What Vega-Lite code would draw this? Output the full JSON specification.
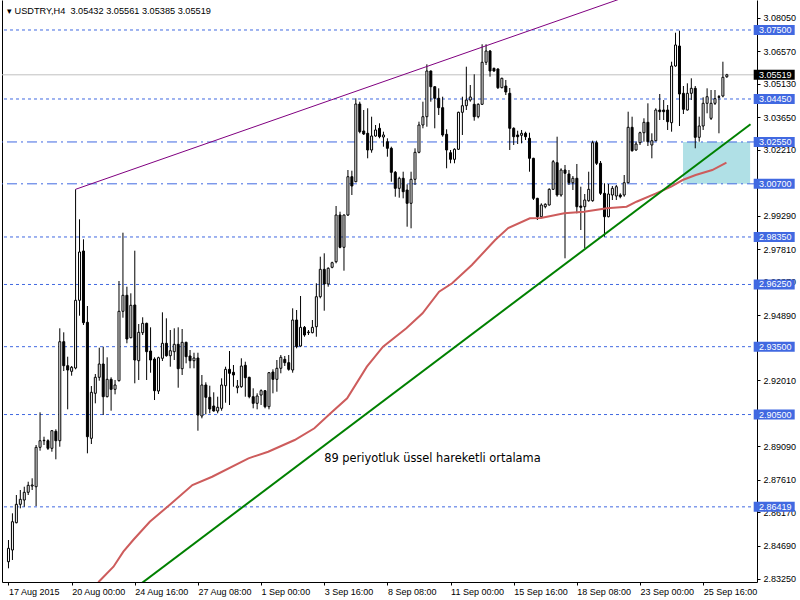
{
"$schema": "https://vega.github.io/schema/vega-lite/v6.json",
"width": 755, "height": 582,
"autosize": "none",
"padding": {"left": 2, "top": 0, "right": 43, "bottom": 18},
"background": "white",
"config": {"view": {"stroke": null}},
"title": {"text": "▾ USDTRY,H4\u00a0 3.05432 3.05561 3.05385 3.05519", "anchor": "start", "frame": "group", "offset": -23, "baseline": "alphabetic", "font": "Liberation Sans", "fontSize": 9.2, "fontWeight": "normal", "color": "black", "dx": 5},
"datasets": {
"bars": [
{"i":0,"o":2.83994,"h":2.84953,"l":2.83702,"c":2.84586},
{"i":1,"o":2.84511,"h":2.86133,"l":2.84069,"c":2.85762},
{"i":2,"o":2.85718,"h":2.86943,"l":2.85691,"c":2.86531},
{"i":3,"o":2.86531,"h":2.87164,"l":2.86354,"c":2.86752},
{"i":4,"o":2.86721,"h":2.87309,"l":2.86425,"c":2.87062},
{"i":5,"o":2.87062,"h":2.87530,"l":2.86943,"c":2.87371},
{"i":6,"o":2.87340,"h":2.87681,"l":2.87164,"c":2.87385},
{"i":7,"o":2.87309,"h":2.89153,"l":2.86456,"c":2.89051},
{"i":8,"o":2.89051,"h":2.90598,"l":2.88901,"c":2.89343},
{"i":9,"o":2.89343,"h":2.89520,"l":2.89153,"c":2.89361},
{"i":10,"o":2.89343,"h":2.89405,"l":2.88932,"c":2.89007},
{"i":11,"o":2.89007,"h":2.89816,"l":2.88857,"c":2.89785},
{"i":12,"o":2.89759,"h":2.89847,"l":2.88521,"c":2.89343},
{"i":13,"o":2.89343,"h":2.94312,"l":2.89078,"c":2.93720},
{"i":14,"o":2.93720,"h":2.94135,"l":2.92424,"c":2.92659},
{"i":15,"o":2.92659,"h":2.93057,"l":2.90731,"c":2.92469},
{"i":16,"o":2.92411,"h":2.92646,"l":2.92217,"c":2.92588},
{"i":17,"o":2.92557,"h":3.00457,"l":2.92499,"c":2.95550},
{"i":18,"o":2.95550,"h":2.99131,"l":2.94869,"c":2.97685},
{"i":19,"o":2.97730,"h":2.98247,"l":2.94458,"c":2.94560},
{"i":20,"o":2.94577,"h":2.95298,"l":2.88786,"c":2.89520},
{"i":21,"o":2.89449,"h":2.91761,"l":2.89197,"c":2.91483},
{"i":22,"o":2.91439,"h":2.92292,"l":2.90996,"c":2.92146},
{"i":23,"o":2.92146,"h":2.93455,"l":2.91996,"c":2.92734},
{"i":24,"o":2.92734,"h":2.93499,"l":2.90479,"c":2.91289},
{"i":25,"o":2.91289,"h":2.93030,"l":2.91260,"c":2.92057},
{"i":26,"o":2.92057,"h":2.92146,"l":2.90670,"c":2.91615},
{"i":27,"o":2.91615,"h":2.92027,"l":2.91394,"c":2.91806},
{"i":28,"o":2.91996,"h":2.96403,"l":2.91960,"c":2.95064},
{"i":29,"o":2.95064,"h":2.98539,"l":2.94781,"c":2.95771},
{"i":30,"o":2.95771,"h":2.96151,"l":2.93649,"c":2.93839},
{"i":31,"o":2.93896,"h":2.95859,"l":2.93870,"c":2.95329},
{"i":32,"o":2.95342,"h":2.97743,"l":2.91881,"c":2.92911},
{"i":33,"o":2.92880,"h":2.94502,"l":2.92027,"c":2.94135},
{"i":34,"o":2.94118,"h":2.94799,"l":2.94016,"c":2.94533},
{"i":35,"o":2.94533,"h":2.94560,"l":2.92027,"c":2.93278},
{"i":36,"o":2.93309,"h":2.94356,"l":2.92349,"c":2.92911},
{"i":37,"o":2.92955,"h":2.93030,"l":2.91142,"c":2.91554},
{"i":38,"o":2.91540,"h":2.93057,"l":2.91408,"c":2.93013},
{"i":39,"o":2.92986,"h":2.95019,"l":2.92867,"c":2.93649},
{"i":40,"o":2.93649,"h":2.94754,"l":2.93057,"c":2.93101},
{"i":41,"o":2.93101,"h":2.94237,"l":2.92615,"c":2.93322},
{"i":42,"o":2.93278,"h":2.94312,"l":2.92911,"c":2.93605},
{"i":43,"o":2.93605,"h":2.94356,"l":2.91686,"c":2.92526},
{"i":44,"o":2.92526,"h":2.94281,"l":2.92248,"c":2.93693},
{"i":45,"o":2.93693,"h":2.93720,"l":2.92765,"c":2.93057},
{"i":46,"o":2.93088,"h":2.93353,"l":2.92544,"c":2.92880},
{"i":47,"o":2.92880,"h":2.93233,"l":2.92544,"c":2.92999},
{"i":48,"o":2.92999,"h":2.93233,"l":2.89785,"c":2.90479},
{"i":49,"o":2.90435,"h":2.92248,"l":2.90333,"c":2.91806},
{"i":50,"o":2.91806,"h":2.91925,"l":2.90510,"c":2.91262},
{"i":51,"o":2.91262,"h":2.91775,"l":2.90554,"c":2.90745},
{"i":52,"o":2.90877,"h":2.91483,"l":2.90630,"c":2.90656},
{"i":53,"o":2.90656,"h":2.91288,"l":2.90554,"c":2.90820},
{"i":54,"o":2.90775,"h":2.92102,"l":2.90669,"c":2.91806},
{"i":55,"o":2.91775,"h":2.92615,"l":2.91023,"c":2.92499},
{"i":56,"o":2.92499,"h":2.93309,"l":2.90921,"c":2.92323},
{"i":57,"o":2.92367,"h":2.92690,"l":2.91730,"c":2.92248},
{"i":58,"o":2.91686,"h":2.92027,"l":2.91439,"c":2.91761},
{"i":59,"o":2.91730,"h":2.92986,"l":2.91686,"c":2.92645},
{"i":60,"o":2.92676,"h":2.92836,"l":2.91288,"c":2.92128},
{"i":61,"o":2.92146,"h":2.92170,"l":2.91217,"c":2.91288},
{"i":62,"o":2.91288,"h":2.91660,"l":2.90775,"c":2.90996},
{"i":63,"o":2.90996,"h":2.91439,"l":2.90731,"c":2.91319},
{"i":64,"o":2.91363,"h":2.91615,"l":2.90921,"c":2.91554},
{"i":65,"o":2.91554,"h":2.91585,"l":2.90775,"c":2.90846},
{"i":66,"o":2.90846,"h":2.92380,"l":2.90731,"c":2.92349},
{"i":67,"o":2.92380,"h":2.92499,"l":2.91439,"c":2.92057},
{"i":68,"o":2.92057,"h":2.92911,"l":2.91509,"c":2.92544},
{"i":69,"o":2.92544,"h":2.93132,"l":2.92323,"c":2.93030},
{"i":70,"o":2.92941,"h":2.93088,"l":2.92646,"c":2.92792},
{"i":71,"o":2.92792,"h":2.93132,"l":2.92438,"c":2.92499},
{"i":72,"o":2.92469,"h":2.95196,"l":2.92349,"c":2.94679},
{"i":73,"o":2.94679,"h":2.95121,"l":2.93428,"c":2.93499},
{"i":74,"o":2.93530,"h":2.95740,"l":2.93499,"c":2.94356},
{"i":75,"o":2.94356,"h":2.94414,"l":2.93941,"c":2.94016},
{"i":76,"o":2.94118,"h":2.94237,"l":2.94016,"c":2.94148},
{"i":77,"o":2.94118,"h":2.94679,"l":2.94091,"c":2.94356},
{"i":78,"o":2.94383,"h":2.96301,"l":2.93941,"c":2.95709},
{"i":79,"o":2.95709,"h":2.97478,"l":2.95638,"c":2.96920},
{"i":80,"o":2.96920,"h":2.97628,"l":2.95090,"c":2.96271},
{"i":81,"o":2.96271,"h":2.97009,"l":2.96151,"c":2.96965},
{"i":82,"o":2.97009,"h":2.97256,"l":2.96965,"c":2.97212},
{"i":83,"o":2.97256,"h":2.99719,"l":2.97186,"c":2.99321},
{"i":84,"o":2.99321,"h":2.99467,"l":2.97849,"c":2.97893},
{"i":85,"o":2.97893,"h":2.99345,"l":2.96859,"c":2.99321},
{"i":86,"o":2.99321,"h":3.01310,"l":2.99277,"c":3.01014},
{"i":87,"o":3.01014,"h":3.01280,"l":3.00205,"c":3.00603},
{"i":88,"o":3.00793,"h":3.04480,"l":3.00770,"c":3.04228},
{"i":89,"o":3.04228,"h":3.04330,"l":3.02933,"c":3.03004},
{"i":90,"o":3.03035,"h":3.03963,"l":3.02858,"c":3.02902},
{"i":91,"o":3.02933,"h":3.04038,"l":3.01828,"c":3.02195},
{"i":92,"o":3.02195,"h":3.03667,"l":3.02075,"c":3.02814},
{"i":93,"o":3.02814,"h":3.03300,"l":3.02782,"c":3.03079},
{"i":94,"o":3.03154,"h":3.03375,"l":3.02712,"c":3.02783},
{"i":95,"o":3.02769,"h":3.03004,"l":3.02341,"c":3.02858},
{"i":96,"o":3.02562,"h":3.02712,"l":3.01898,"c":3.02270},
{"i":97,"o":3.02270,"h":3.02341,"l":3.00793,"c":3.01209},
{"i":98,"o":3.01209,"h":3.01266,"l":3.00130,"c":3.00501},
{"i":99,"o":3.00501,"h":3.01014,"l":3.00086,"c":3.00944},
{"i":100,"o":3.00944,"h":3.01235,"l":3.00059,"c":3.00351},
{"i":101,"o":3.00426,"h":3.00678,"l":2.98804,"c":2.99838},
{"i":102,"o":2.99838,"h":3.01235,"l":2.98733,"c":3.00899},
{"i":103,"o":3.00899,"h":3.02270,"l":3.00647,"c":3.02093},
{"i":104,"o":3.02093,"h":3.03446,"l":3.02049,"c":3.03300},
{"i":105,"o":3.03300,"h":3.04330,"l":3.03154,"c":3.03667},
{"i":106,"o":3.03667,"h":3.05983,"l":3.03225,"c":3.05687},
{"i":107,"o":3.05687,"h":3.05710,"l":3.04330,"c":3.04993},
{"i":108,"o":3.04993,"h":3.05010,"l":3.03154,"c":3.04480},
{"i":109,"o":3.04480,"h":3.04922,"l":3.03742,"c":3.04065},
{"i":110,"o":3.04065,"h":3.04551,"l":3.02782,"c":3.02858},
{"i":111,"o":3.02889,"h":3.03110,"l":3.01386,"c":3.02195},
{"i":112,"o":3.02075,"h":3.02195,"l":3.01607,"c":3.01783},
{"i":113,"o":3.01783,"h":3.02270,"l":3.01607,"c":3.02226},
{"i":114,"o":3.02226,"h":3.03888,"l":3.02195,"c":3.03861},
{"i":115,"o":3.03861,"h":3.04551,"l":3.02858,"c":3.04153},
{"i":116,"o":3.04153,"h":3.05877,"l":3.03963,"c":3.04405},
{"i":117,"o":3.04405,"h":3.05068,"l":3.04330,"c":3.04538},
{"i":118,"o":3.04215,"h":3.05541,"l":3.03490,"c":3.03667},
{"i":119,"o":3.03667,"h":3.04259,"l":3.03596,"c":3.04215},
{"i":120,"o":3.04215,"h":3.06868,"l":3.04184,"c":3.06072},
{"i":121,"o":3.06072,"h":3.06868,"l":3.05952,"c":3.06571},
{"i":122,"o":3.06571,"h":3.06616,"l":3.05435,"c":3.05687},
{"i":123,"o":3.05806,"h":3.05833,"l":3.05656,"c":3.05687},
{"i":124,"o":3.05776,"h":3.05806,"l":3.04891,"c":3.04949},
{"i":125,"o":3.04949,"h":3.05391,"l":3.04922,"c":3.05364},
{"i":126,"o":3.05024,"h":3.05289,"l":3.04626,"c":3.04759},
{"i":127,"o":3.04701,"h":3.04936,"l":3.02195,"c":3.03154},
{"i":128,"o":3.03154,"h":3.03198,"l":3.02416,"c":3.02783},
{"i":129,"o":3.02858,"h":3.03048,"l":3.02460,"c":3.02783},
{"i":130,"o":3.02845,"h":3.03079,"l":3.02491,"c":3.02933},
{"i":131,"o":3.02933,"h":3.03004,"l":3.02637,"c":3.02783},
{"i":132,"o":3.02712,"h":3.02959,"l":3.01235,"c":3.01828},
{"i":133,"o":3.01828,"h":3.01850,"l":2.99984,"c":3.00059},
{"i":134,"o":3.00059,"h":3.00080,"l":2.99100,"c":2.99246},
{"i":135,"o":2.99246,"h":2.99838,"l":2.99175,"c":2.99763},
{"i":136,"o":2.99688,"h":2.99838,"l":2.99617,"c":2.99794},
{"i":137,"o":2.99763,"h":3.00501,"l":2.99740,"c":3.00457},
{"i":138,"o":3.00457,"h":3.01753,"l":3.00426,"c":3.01677},
{"i":139,"o":3.01633,"h":3.02783,"l":3.00130,"c":3.00205},
{"i":140,"o":3.00205,"h":3.01386,"l":3.00130,"c":3.01310},
{"i":141,"o":3.01310,"h":3.01532,"l":2.97407,"c":3.01165},
{"i":142,"o":3.01134,"h":3.01310,"l":3.00647,"c":3.00749},
{"i":143,"o":3.00749,"h":3.01045,"l":3.00426,"c":3.00944},
{"i":144,"o":3.00944,"h":3.01576,"l":2.99396,"c":2.99688},
{"i":145,"o":2.99719,"h":3.00572,"l":2.98658,"c":2.99661},
{"i":146,"o":2.99688,"h":3.00249,"l":2.97849,"c":2.99984},
{"i":147,"o":2.99953,"h":3.01235,"l":2.99909,"c":3.00457},
{"i":148,"o":2.99953,"h":3.02606,"l":2.99909,"c":3.02517},
{"i":149,"o":3.02517,"h":3.02606,"l":3.01532,"c":3.01607},
{"i":150,"o":3.01607,"h":3.01708,"l":3.00205,"c":3.00280},
{"i":151,"o":3.00280,"h":3.00723,"l":2.98362,"c":2.99246},
{"i":152,"o":2.99246,"h":3.00692,"l":2.99219,"c":3.00249},
{"i":153,"o":3.00205,"h":3.00603,"l":2.99984,"c":3.00501},
{"i":154,"o":3.00161,"h":3.00647,"l":2.99984,"c":3.00572},
{"i":155,"o":3.00205,"h":3.00280,"l":3.00059,"c":3.00130},
{"i":156,"o":3.00205,"h":3.01089,"l":3.00130,"c":3.00749},
{"i":157,"o":3.00749,"h":3.03888,"l":3.00723,"c":3.03198},
{"i":158,"o":3.03198,"h":3.03667,"l":3.02120,"c":3.02164},
{"i":159,"o":3.02195,"h":3.02562,"l":3.02164,"c":3.02460},
{"i":160,"o":3.02517,"h":3.03004,"l":3.02416,"c":3.02959},
{"i":161,"o":3.02959,"h":3.03596,"l":3.02562,"c":3.03419},
{"i":162,"o":3.03419,"h":3.04259,"l":3.02371,"c":3.02562},
{"i":163,"o":3.02416,"h":3.02933,"l":3.01828,"c":3.02606},
{"i":164,"o":3.02606,"h":3.04038,"l":3.02580,"c":3.03963},
{"i":165,"o":3.03963,"h":3.04670,"l":3.03521,"c":3.03888},
{"i":166,"o":3.03963,"h":3.04405,"l":3.03521,"c":3.03888},
{"i":167,"o":3.03963,"h":3.04184,"l":3.03079,"c":3.03446},
{"i":168,"o":3.03402,"h":3.06098,"l":3.03004,"c":3.05908},
{"i":169,"o":3.05908,"h":3.07380,"l":3.05877,"c":3.06837},
{"i":170,"o":3.06792,"h":3.07469,"l":3.03256,"c":3.04670},
{"i":171,"o":3.04701,"h":3.05024,"l":3.03786,"c":3.03994},
{"i":172,"o":3.03963,"h":3.05143,"l":3.03940,"c":3.04701},
{"i":173,"o":3.04701,"h":3.05364,"l":3.04405,"c":3.04922},
{"i":174,"o":3.04922,"h":3.05024,"l":3.02270,"c":3.02756},
{"i":175,"o":3.02756,"h":3.03667,"l":3.02562,"c":3.03256},
{"i":176,"o":3.03256,"h":3.04524,"l":3.03079,"c":3.04259},
{"i":177,"o":3.04259,"h":3.04922,"l":3.03817,"c":3.04551},
{"i":178,"o":3.03596,"h":3.04847,"l":3.03521,"c":3.04259},
{"i":179,"o":3.04259,"h":3.04847,"l":3.04184,"c":3.04463},
{"i":180,"o":3.04551,"h":3.04626,"l":3.02933,"c":3.04525},
{"i":181,"o":3.04582,"h":3.06098,"l":3.04525,"c":3.05409},
{"i":182,"o":3.05432,"h":3.05561,"l":3.05385,"c":3.05519}
],
"ema": [
{"i":21.5,"v":2.82655},{"i":22.9,"v":2.83110},{"i":26.6,"v":2.83773},{"i":29.1,"v":2.84436},{"i":31.6,"v":2.84953},
{"i":35.8,"v":2.85762},{"i":40.8,"v":2.86501},{"i":46.6,"v":2.87385},{"i":51.6,"v":2.87751},{"i":60.8,"v":2.88565},
{"i":65.8,"v":2.88857},{"i":72.5,"v":2.89374},{"i":77.5,"v":2.89891},{"i":81.6,"v":2.90554},{"i":85.8,"v":2.91217},
{"i":90.8,"v":2.92615},{"i":94.9,"v":2.93499},{"i":100.8,"v":2.94312},{"i":104.9,"v":2.94975},{"i":109.1,"v":2.95930},
{"i":112.4,"v":2.96301},{"i":117.4,"v":2.97111},{"i":123.3,"v":2.98216},{"i":126.6,"v":2.98746},{"i":132.1,"v":2.99175},
{"i":134.9,"v":2.99188},{"i":140.8,"v":2.99396},{"i":145.8,"v":2.99467},{"i":151.6,"v":2.99617},{"i":156.6,"v":2.99688},
{"i":159.1,"v":2.99909},{"i":164.1,"v":3.00280},{"i":167.9,"v":3.00572},{"i":170.8,"v":3.00868},{"i":174.1,"v":3.01089},
{"i":178.3,"v":3.01310},{"i":181.9,"v":3.01633}
],
"levels": [{"p":3.075},{"p":3.0445},{"p":2.9835},{"p":2.9625},{"p":2.935},{"p":2.905},{"p":2.86419}],
"zone": [{"p":3.0255},{"p":3.007}],
"last": [{"p":3.05519}],
"box": [{"i":170.9,"i2":187.9,"p":3.0255,"p2":3.007}],
"support": [{"i":30,"p":2.82553},{"i":188,"p":3.03331}],
"resistance": [{"i":17,"p":3.00457},{"i":187,"p":3.10829}],
"note": [{"i":80,"p":2.88521,"label":"89 periyotluk üssel hareketli ortalama"}]
},
"resolve": {"axis": {"x": "independent", "y": "independent"}},
"layer": [
{"data": {"name": "box"}, "mark": {"type": "rect", "color": "#B0E0E6", "clip": true},
 "encoding": {
  "x": {"field": "i", "type": "quantitative", "scale": {"domain": [-0.375, 188.375], "nice": false, "zero": false}, "axis": null},
  "x2": {"field": "i2"},
  "y": {"field": "p", "type": "quantitative", "scale": {"domain": [2.83097, 3.08826], "nice": false, "zero": false},
        "axis": {"orient": "left", "labels": false, "ticks": false, "domain": true, "domainColor": "black", "grid": false, "title": null}},
  "y2": {"field": "p2"}}},
{"data": {"name": "levels"}, "mark": {"type": "rule", "color": "#4169E1", "strokeWidth": 1, "strokeDash": [3, 3]},
 "encoding": {"y": {"field": "p", "type": "quantitative", "scale": {"domain": [2.83097, 3.08826], "nice": false, "zero": false}, "axis": null}}},
{"data": {"name": "zone"}, "mark": {"type": "rule", "color": "#4169E1", "strokeWidth": 1, "strokeDash": [10, 4, 2, 4]},
 "encoding": {"y": {"field": "p", "type": "quantitative", "scale": {"domain": [2.83097, 3.08826], "nice": false, "zero": false}, "axis": null}}},
{"data": {"name": "last"}, "mark": {"type": "rule", "color": "#C0C0C0", "strokeWidth": 1},
 "encoding": {"y": {"field": "p", "type": "quantitative", "scale": {"domain": [2.83097, 3.08826], "nice": false, "zero": false}, "axis": null}}},
{"data": {"name": "bars"}, "mark": {"type": "rule", "color": "black", "strokeWidth": 1, "clip": true},
 "encoding": {
  "x": {"field": "i", "type": "quantitative", "scale": {"domain": [-0.375, 188.375], "nice": false, "zero": false},
        "axis": {"orient": "bottom", "values": [0,16,32,48,64,80,96,112,128,144,160,176],
                 "labelExpr": "['17 Aug 2015','20 Aug 00:00','24 Aug 16:00','27 Aug 08:00','1 Sep 00:00','3 Sep 16:00','8 Sep 08:00','11 Sep 00:00','15 Sep 16:00','18 Sep 08:00','23 Sep 00:00','25 Sep 16:00'][round(datum.value/16)]",
                 "labelAlign": "left", "labelBaseline": "top", "labelPadding": 2, "tickSize": 3, "tickColor": "black", "domainColor": "black",
                 "labelColor": "black", "labelFont": "Liberation Sans", "labelFontSize": 9, "grid": false, "title": null, "labelFlush": false, "labelOverlap": false}},
  "y": {"field": "l", "type": "quantitative", "scale": {"domain": [2.83097, 3.08826], "nice": false, "zero": false},
        "axis": {"orient": "right", "values": [3.0805,3.0657,3.0513,3.0365,3.0221,2.9929,2.9781,2.9637,2.9489,2.9201,2.8909,2.8761,2.8617,2.8469,2.8325],
                 "format": ".5f", "tickSize": 3, "labelPadding": 3, "tickColor": "black", "domainColor": "black", "labelColor": "black",
                 "labelFont": "Liberation Sans", "labelFontSize": 9, "grid": false, "title": null, "labelOverlap": false, "labelFlush": false}},
  "y2": {"field": "h"}}},
{"data": {"name": "bars"}, "mark": {"type": "bar", "size": 2, "stroke": "black", "strokeWidth": 1, "clip": true},
 "encoding": {
  "x": {"field": "i", "type": "quantitative", "scale": {"domain": [-0.375, 188.375], "nice": false, "zero": false}, "axis": null},
  "y": {"field": "o", "type": "quantitative", "scale": {"domain": [2.83097, 3.08826], "nice": false, "zero": false}, "axis": null},
  "y2": {"field": "c"},
  "fill": {"condition": {"test": "datum.c >= datum.o", "value": "white"}, "value": "black"}}},
{"data": {"name": "ema"}, "mark": {"type": "line", "color": "#CD5C5C", "strokeWidth": 2, "clip": true},
 "encoding": {
  "x": {"field": "i", "type": "quantitative", "scale": {"domain": [-0.375, 188.375], "nice": false, "zero": false}, "axis": null},
  "y": {"field": "v", "type": "quantitative", "scale": {"domain": [2.83097, 3.08826], "nice": false, "zero": false}, "axis": null}}},
{"data": {"name": "support"}, "mark": {"type": "line", "color": "#008000", "strokeWidth": 2, "clip": true},
 "encoding": {
  "x": {"field": "i", "type": "quantitative", "scale": {"domain": [-0.375, 188.375], "nice": false, "zero": false}, "axis": null},
  "y": {"field": "p", "type": "quantitative", "scale": {"domain": [2.83097, 3.08826], "nice": false, "zero": false}, "axis": null}}},
{"data": {"name": "resistance"}, "mark": {"type": "line", "color": "#800080", "strokeWidth": 1, "clip": true},
 "encoding": {
  "x": {"field": "i", "type": "quantitative", "scale": {"domain": [-0.375, 188.375], "nice": false, "zero": false}, "axis": null},
  "y": {"field": "p", "type": "quantitative", "scale": {"domain": [2.83097, 3.08826], "nice": false, "zero": false}, "axis": null}}},
{"data": {"name": "note"}, "mark": {"type": "text", "align": "left", "baseline": "middle", "font": "DejaVu Sans", "fontSize": 11.4, "color": "black"},
 "encoding": {
  "x": {"field": "i", "type": "quantitative", "scale": {"domain": [-0.375, 188.375], "nice": false, "zero": false}, "axis": null},
  "y": {"field": "p", "type": "quantitative", "scale": {"domain": [2.83097, 3.08826], "nice": false, "zero": false}, "axis": null},
  "text": {"field": "label"}}},
{"data": {"name": "levels"}, "mark": {"type": "tick", "orient": "horizontal", "size": 41, "thickness": 10, "color": "#4169E1", "opacity": 1, "clip": false},
 "encoding": {"x": {"datum": 194, "type": "quantitative", "scale": {"domain": [-0.375, 188.375], "nice": false, "zero": false}, "axis": null},
  "y": {"field": "p", "type": "quantitative", "scale": {"domain": [2.83097, 3.08826], "nice": false, "zero": false}, "axis": null}}},
{"data": {"name": "zone"}, "mark": {"type": "tick", "orient": "horizontal", "size": 41, "thickness": 10, "color": "#4169E1", "opacity": 1, "clip": false},
 "encoding": {"x": {"datum": 194, "type": "quantitative", "scale": {"domain": [-0.375, 188.375], "nice": false, "zero": false}, "axis": null},
  "y": {"field": "p", "type": "quantitative", "scale": {"domain": [2.83097, 3.08826], "nice": false, "zero": false}, "axis": null}}},
{"data": {"name": "last"}, "mark": {"type": "tick", "orient": "horizontal", "size": 41, "thickness": 10, "color": "black", "opacity": 1, "clip": false},
 "encoding": {"x": {"datum": 194, "type": "quantitative", "scale": {"domain": [-0.375, 188.375], "nice": false, "zero": false}, "axis": null},
  "y": {"field": "p", "type": "quantitative", "scale": {"domain": [2.83097, 3.08826], "nice": false, "zero": false}, "axis": null}}},
{"data": {"name": "levels"}, "mark": {"type": "text", "align": "left", "baseline": "middle", "font": "Liberation Sans", "fontSize": 9, "color": "white", "clip": false},
 "encoding": {"x": {"datum": 190.125, "type": "quantitative", "scale": {"domain": [-0.375, 188.375], "nice": false, "zero": false}, "axis": null},
  "y": {"field": "p", "type": "quantitative", "scale": {"domain": [2.83097, 3.08826], "nice": false, "zero": false}, "axis": null},
  "text": {"field": "p", "format": ".5f"}}},
{"data": {"name": "zone"}, "mark": {"type": "text", "align": "left", "baseline": "middle", "font": "Liberation Sans", "fontSize": 9, "color": "white", "clip": false},
 "encoding": {"x": {"datum": 190.125, "type": "quantitative", "scale": {"domain": [-0.375, 188.375], "nice": false, "zero": false}, "axis": null},
  "y": {"field": "p", "type": "quantitative", "scale": {"domain": [2.83097, 3.08826], "nice": false, "zero": false}, "axis": null},
  "text": {"field": "p", "format": ".5f"}}},
{"data": {"name": "last"}, "mark": {"type": "text", "align": "left", "baseline": "middle", "font": "Liberation Sans", "fontSize": 9, "color": "white", "clip": false},
 "encoding": {"x": {"datum": 190.125, "type": "quantitative", "scale": {"domain": [-0.375, 188.375], "nice": false, "zero": false}, "axis": null},
  "y": {"field": "p", "type": "quantitative", "scale": {"domain": [2.83097, 3.08826], "nice": false, "zero": false}, "axis": null},
  "text": {"field": "p", "format": ".5f"}}}
]
}
